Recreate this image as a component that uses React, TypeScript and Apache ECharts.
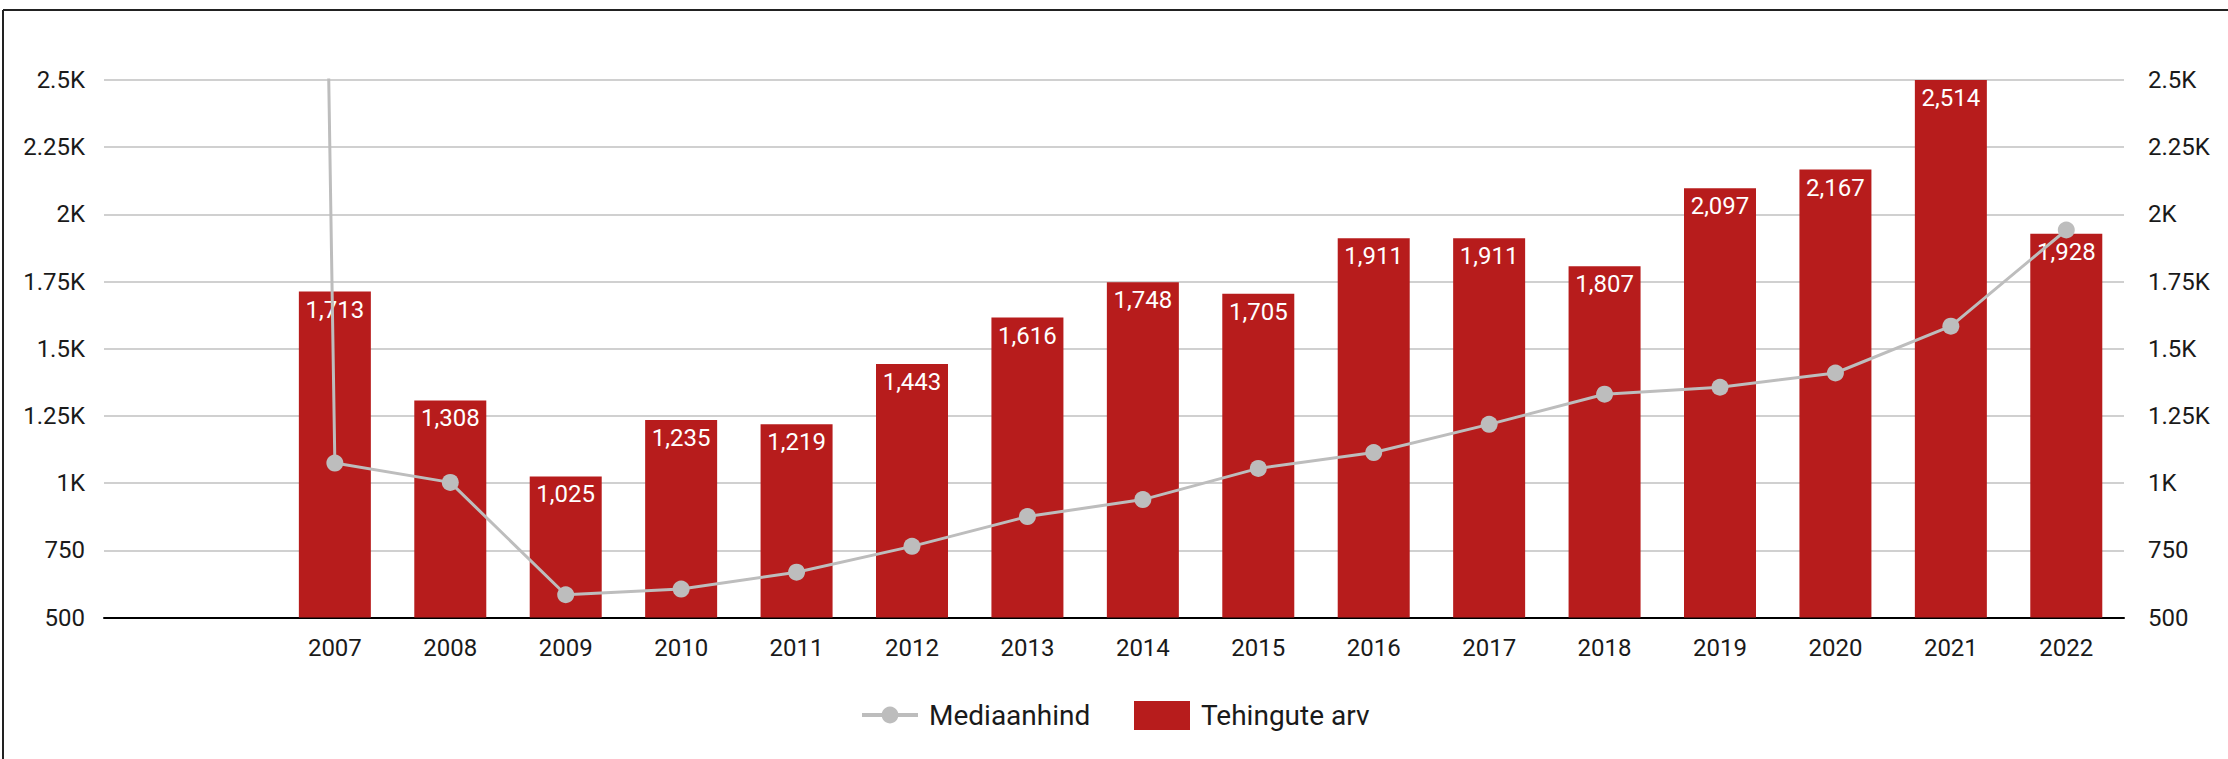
import React, { useEffect, useRef } from 'react';
import * as echarts from 'echarts';

// Years for the bars (Tehingute arv) and their values
const barYears = [2007, 2008, 2009, 2010, 2011, 2012, 2013, 2014, 2015, 2016, 2017, 2018, 2019, 2020, 2021, 2022];
const tehinguteArv = [1713, 1308, 1025, 1235, 1219, 1443, 1616, 1748, 1705, 1911, 1911, 1807, 2097, 2167, 2514, 1928];

// Years for the line (Mediaanhind) and its values (the first one lies far above the axis)
const lineYears = [2006, 2007, 2008, 2009, 2010, 2011, 2012, 2013, 2014, 2015, 2016, 2017, 2018, 2019, 2020, 2021, 2022];
const mediaanhind = [28000, 1075, 1003, 585, 606, 669, 765, 876, 939, 1055, 1114, 1219, 1331, 1357, 1410, 1584, 1942];

// Tick labels
const xTickLabels = ['2007', '2008', '2009', '2010', '2011', '2012', '2013', '2014', '2015', '2016', '2017', '2018', '2019', '2020', '2021', '2022'];
const yTickValues = [500, 750, 1000, 1250, 1500, 1750, 2000, 2250, 2500];
const yTickLabels = ['500', '750', '1K', '1.25K', '1.5K', '1.75K', '2K', '2.25K', '2.5K'];

const FONT = 'Roboto';
const TEXT = '#1a1a1a';
const RED = '#b71c1c';
const GREY = '#bdbdbd';

export default function App() {
  const ref = useRef<HTMLDivElement>(null);

  useEffect(() => {
    if (!ref.current) return;
    const chart = echarts.init(ref.current, undefined, { renderer: 'svg' });
    const yLabel = (v: number) => {
      const i = yTickValues.indexOf(v);
      return i >= 0 ? yTickLabels[i] : '';
    };
    chart.setOption({
      animation: false,
      backgroundColor: '#ffffff',
      grid: { left: 104, top: 80, width: 2020, height: 537.6, containLabel: false },
      xAxis: {
        type: 'value',
        min: 2005,
        max: 2022.5,
        interval: 1,
        axisLine: { show: true, onZero: false, lineStyle: { color: '#000', width: 2 } },
        axisTick: { show: false },
        splitLine: { show: false },
        axisLabel: {
          formatter: (v: number) => (xTickLabels.indexOf(String(v)) >= 0 ? String(v) : ''),
          fontSize: 24,
          fontFamily: FONT,
          color: TEXT,
          margin: 18,
          showMaxLabel: false,
        },
      },
      yAxis: [
        {
          type: 'value',
          min: 500,
          max: 2500,
          interval: 250,
          position: 'left',
          axisLine: { show: false },
          axisTick: { show: false },
          splitLine: { show: true, lineStyle: { color: '#d0d0d0', width: 2 } },
          axisLabel: { formatter: yLabel, margin: 19, fontSize: 24, fontFamily: FONT, color: TEXT },
        },
        {
          type: 'value',
          min: 500,
          max: 2500,
          interval: 250,
          position: 'right',
          axisLine: { show: false },
          axisTick: { show: false },
          splitLine: { show: false },
          axisLabel: { formatter: yLabel, margin: 24, fontSize: 24, fontFamily: FONT, color: TEXT },
        },
      ],
      legend: [
        {
          data: ['Mediaanhind'],
          left: 860,
          top: 701,
          padding: 0,
          itemWidth: 56,
          itemHeight: 21,
          selectedMode: false,
          lineStyle: { width: 4 },
          textStyle: { fontSize: 28, fontFamily: FONT, color: TEXT, padding: [0, 0, 0, 6] },
        },
        {
          data: [{ name: 'Tehingute arv', icon: 'rect' }],
          left: 1134,
          top: 701,
          padding: 0,
          itemWidth: 56,
          itemHeight: 29,
          selectedMode: false,
          textStyle: { fontSize: 28, fontFamily: FONT, color: TEXT, padding: [0, 0, 0, 6] },
        },
      ],
      graphic: [
        { type: 'line', shape: { x1: 3, y1: 10, x2: 2228, y2: 10 }, style: { stroke: '#222', lineWidth: 2 } },
        { type: 'line', shape: { x1: 3, y1: 10, x2: 3, y2: 759 }, style: { stroke: '#222', lineWidth: 2 } },
      ],
      series: [
        {
          name: 'Tehingute arv',
          type: 'bar',
          yAxisIndex: 0,
          barWidth: 72,
          data: barYears.map((y, i) => [y, tehinguteArv[i]]),
          itemStyle: { color: RED },
          label: {
            show: true,
            position: 'insideTop',
            distance: 6,
            color: '#ffffff',
            fontSize: 24,
            fontFamily: FONT,
            formatter: (p: any) => Number(p.value[1]).toLocaleString('en-US'),
          },
          z: 2,
        },
        {
          name: 'Mediaanhind',
          type: 'line',
          yAxisIndex: 1,
          data: lineYears.map((y, i) => [y, mediaanhind[i]]),
          symbol: 'circle',
          symbolSize: 17,
          lineStyle: { color: GREY, width: 3 },
          itemStyle: { color: GREY },
          z: 3,
        },
      ],
    });
    return () => chart.dispose();
  }, []);

  return (
    <div
      ref={ref}
      style={{ position: 'absolute', left: 0, top: 0, width: 2228, height: 759, background: '#fff' }}
    />
  );
}
